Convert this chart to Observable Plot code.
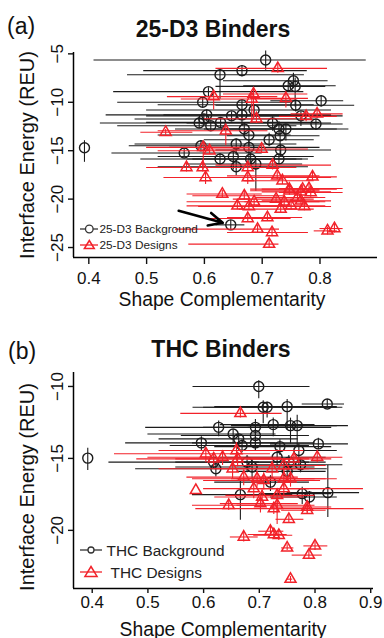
<!DOCTYPE html>
<html><head><meta charset="utf-8">
<script src="https://cdn.jsdelivr.net/npm/d3@7"></script>
<script src="https://cdn.jsdelivr.net/npm/@observablehq/plot@0.6"></script>
<style>
body{margin:0;background:#fff;}
#root{position:relative;width:384px;height:638px;overflow:hidden;font-family:"Liberation Sans",Arial,sans-serif;}
#root > div{position:absolute;left:0;}
#overlay{position:absolute;left:0;top:0;pointer-events:none;}
</style></head><body><div id="root"><div id="pa" style="top:0"></div><div id="pb" style="top:320px"></div></div>
<script>
// [x, y, xLow, xHigh, yLow, yHigh]
const bgA = [
[0.706,-5.63,0.409,0.880,-4.7,-6.7],[0.665,-6.73,0.495,0.778,-6.2,-7.4],[0.627,-7.15,0.467,0.773,-6.6,-9.7],
[0.754,-7.77,0.633,0.814,-7.0,-8.6],[0.745,-8.3,0.668,0.828,-7.9,-9.0],[0.757,-8.36,0.62,0.81,-7.5,-10.5],
[0.607,-8.9,0.443,0.772,-8.5,-9.5],[0.802,-9.84,0.715,0.841,-9.3,-10.5],[0.597,-10.0,0.45,0.75,-9.5,-10.6],
[0.665,-10.25,0.52,0.79,-9.8,-12.5],[0.758,-10.3,0.62,0.86,-9.8,-11.0],[0.686,-10.8,0.5,0.82,-10.3,-11.5],
[0.604,-11.3,0.43,0.78,-10.8,-12.0],[0.647,-11.4,0.5,0.84,-11.0,-12.0],[0.665,-11.3,0.53,0.82,-10.9,-11.8],
[0.767,-11.4,0.66,0.82,-11.0,-12.5],[0.591,-12.14,0.42,0.72,-11.6,-12.7],[0.599,-11.73,0.48,0.79,-11.3,-12.3],
[0.611,-12.42,0.45,0.76,-12.0,-13.0],[0.628,-12.08,0.50,0.80,-11.6,-12.7],[0.669,-12.76,0.55,0.79,-12.2,-13.4],
[0.677,-13.38,0.52,0.75,-12.9,-14.5],[0.718,-12.14,0.57,0.82,-11.5,-13.0],[0.729,-12.76,0.63,0.83,-12.0,-13.5],
[0.741,-12.76,0.60,0.85,-12.3,-14.0],[0.731,-13.45,0.64,0.80,-12.8,-15.5],[0.712,-13.87,0.60,0.79,-13.2,-14.6],
[0.793,-12.24,0.72,0.84,-11.8,-12.9],[0.3925,-14.7,0.3925,0.3925,-13.97,-16.2],[0.655,-14.31,0.48,0.76,-13.8,-15.5],
[0.677,-14.66,0.54,0.80,-14.0,-16.5],[0.565,-15.24,0.44,0.70,-14.8,-15.7],[0.627,-15.86,0.49,0.76,-15.3,-16.5],
[0.65,-15.6,0.52,0.79,-15.0,-17.0],[0.68,-15.86,0.57,0.77,-15.3,-16.5],[0.729,-15.86,0.58,0.78,-15.4,-16.4],
[0.732,-14.93,0.62,0.82,-14.4,-15.6],[0.655,-16.66,0.52,0.78,-16.0,-17.6],[0.689,-16.38,0.57,0.77,-15.8,-19.2],
[0.594,-14.49,0.47,0.70,-14.0,-15.0],[0.6456,-22.66,0.62,0.67,-22.2,-23.2]
];
const designsA = [
[0.727,-6.5,0.62,0.813,-6.0,-7.0],[0.685,-9.14,0.633,0.779,-8.5,-11.5],[0.616,-9.42,0.536,0.727,-9.0,-10.8],
[0.682,-9.66,0.56,0.76,-9.2,-12.0],[0.741,-9.6,0.68,0.78,-9.1,-10.6],[0.776,-11.46,0.73,0.83,-11.0,-12.0],
[0.795,-11.2,0.75,0.84,-10.8,-11.7],[0.69,-11.7,0.60,0.76,-11.2,-12.2],[0.533,-13.1,0.49,0.58,-12.8,-13.5],
[0.637,-12.94,0.52,0.71,-12.4,-14.5],[0.598,-14.66,0.50,0.68,-14.2,-17.0],[0.609,-15.0,0.52,0.70,-14.6,-15.4],
[0.699,-14.83,0.60,0.78,-14.4,-15.3],[0.569,-16.73,0.50,0.66,-16.3,-17.2],[0.597,-16.73,0.52,0.76,-16.3,-17.2],
[0.602,-17.77,0.53,0.82,-17.3,-18.5],[0.675,-16.73,0.55,0.74,-16.3,-17.3],[0.675,-17.77,0.55,0.76,-17.3,-18.5],
[0.718,-16.49,0.62,0.82,-16.0,-17.0],[0.726,-17.6,0.64,0.80,-17.2,-18.0],[0.735,-18.1,0.67,0.79,-17.7,-18.5],
[0.787,-17.7,0.74,0.83,-17.2,-18.1],[0.747,-18.97,0.68,0.80,-18.6,-19.4],[0.77,-18.97,0.70,0.83,-18.6,-19.4],
[0.781,-18.9,0.73,0.84,-18.5,-19.3],[0.631,-19.48,0.57,0.70,-19.1,-19.9],[0.669,-19.66,0.58,0.74,-19.2,-20.1],
[0.747,-19.14,0.68,0.80,-18.7,-19.6],[0.767,-19.25,0.70,0.82,-18.8,-19.7],[0.784,-19.32,0.73,0.84,-18.9,-19.8],
[0.686,-20.28,0.57,0.81,-19.9,-20.7],[0.724,-20.0,0.65,0.79,-19.6,-20.4],[0.738,-20.28,0.67,0.80,-19.9,-20.7],
[0.761,-19.83,0.69,0.81,-19.4,-20.3],[0.767,-20.18,0.70,0.82,-19.8,-20.6],[0.657,-20.7,0.57,0.74,-20.3,-21.1],
[0.677,-20.76,0.59,0.75,-20.3,-21.2],[0.732,-21.03,0.66,0.79,-20.6,-21.4],[0.75,-20.7,0.69,0.81,-20.3,-21.1],
[0.773,-20.76,0.71,0.82,-20.3,-21.2],[0.675,-22.0,0.60,0.75,-21.6,-22.4],[0.709,-21.9,0.64,0.77,-21.5,-22.3],
[0.692,-23.1,0.55,0.73,-22.7,-23.5],[0.717,-23.45,0.64,0.78,-23.0,-23.9],[0.712,-24.65,0.573,0.729,-24.2,-25.1],
[0.813,-23.28,0.79,0.83,-22.9,-23.7],[0.825,-23.04,0.80,0.84,-22.6,-23.5]
];
const bgB = [
[0.699,-10.0,0.581,0.791,-9.6,-10.85],[0.707,-11.45,0.581,0.84,-11.0,-12.6],[0.714,-11.45,0.60,0.85,-11.1,-12.2],
[0.75,-11.4,0.62,0.84,-10.9,-13.0],[0.822,-11.22,0.777,0.853,-10.9,-11.5],[0.627,-12.84,0.496,0.78,-12.4,-13.5],
[0.693,-12.84,0.60,0.83,-12.3,-13.5],[0.725,-12.65,0.63,0.80,-12.2,-13.5],[0.756,-12.72,0.65,0.84,-12.2,-14.0],
[0.768,-12.72,0.68,0.86,-12.0,-14.2],[0.653,-13.3,0.50,0.73,-13.0,-14.0],[0.693,-13.41,0.56,0.79,-13.0,-14.5],
[0.663,-13.64,0.52,0.77,-13.3,-14.2],[0.596,-13.92,0.46,0.73,-13.5,-14.5],[0.669,-14.1,0.54,0.79,-13.7,-14.6],
[0.693,-13.92,0.58,0.80,-13.5,-14.5],[0.737,-14.18,0.62,0.83,-13.7,-14.8],[0.806,-13.99,0.72,0.86,-13.6,-14.4],
[0.771,-14.45,0.67,0.84,-14.0,-15.5],[0.392,-14.98,0.392,0.392,-14.3,-15.84],[0.618,-15.26,0.43,0.70,-14.9,-15.7],
[0.678,-15.26,0.55,0.79,-14.8,-16.0],[0.732,-14.92,0.63,0.82,-14.4,-15.6],[0.753,-15.26,0.66,0.82,-14.8,-16.0],
[0.774,-15.44,0.68,0.85,-15.0,-16.0],[0.622,-15.72,0.478,0.822,-15.3,-16.3],[0.687,-15.6,0.55,0.80,-15.1,-16.4],
[0.75,-15.9,0.66,0.82,-15.4,-16.6],[0.72,-16.65,0.62,0.79,-16.2,-17.3],[0.666,-17.52,0.58,0.76,-16.5,-19.3],
[0.777,-17.45,0.70,0.83,-17.0,-18.2],[0.79,-17.68,0.72,0.84,-17.3,-18.2],[0.823,-17.38,0.75,0.88,-15.5,-19.1]
];
const designsB = [
[0.666,-11.87,0.559,0.741,-11.6,-12.2],[0.604,-14.68,0.44,0.72,-14.3,-15.3],[0.618,-15.03,0.48,0.79,-14.6,-15.6],
[0.634,-14.92,0.50,0.74,-14.5,-15.5],[0.659,-14.45,0.52,0.78,-13.9,-15.2],[0.661,-15.03,0.55,0.76,-14.6,-15.6],
[0.652,-15.72,0.52,0.79,-15.3,-16.4],[0.723,-15.72,0.62,0.80,-15.2,-16.4],[0.744,-15.49,0.65,0.82,-15.0,-16.0],
[0.762,-15.03,0.68,0.83,-14.6,-15.6],[0.804,-14.92,0.76,0.85,-14.5,-15.3],[0.672,-16.3,0.57,0.77,-15.8,-16.9],
[0.696,-16.41,0.58,0.80,-15.9,-17.0],[0.708,-16.53,0.60,0.81,-16.0,-17.2],[0.744,-16.41,0.65,0.82,-15.9,-17.0],
[0.756,-16.41,0.66,0.84,-15.9,-17.0],[0.586,-17.22,0.586,0.586,-17.22,-17.22],[0.69,-17.1,0.60,0.79,-16.6,-17.8],
[0.744,-17.1,0.66,0.887,-16.6,-17.6],[0.705,-17.68,0.62,0.78,-17.2,-18.3],[0.732,-17.57,0.64,0.80,-17.1,-18.8],
[0.645,-18.26,0.58,0.71,-17.9,-18.6],[0.702,-18.14,0.63,0.77,-17.7,-18.8],[0.732,-18.26,0.66,0.80,-17.8,-19.6],
[0.786,-18.38,0.72,0.83,-18.0,-18.8],[0.726,-18.49,0.586,0.888,-18.1,-18.9],[0.786,-18.6,0.74,0.82,-18.3,-18.9],
[0.753,-19.23,0.73,0.78,-18.9,-19.5],[0.672,-20.46,0.648,0.698,-20.1,-20.8],[0.72,-20.06,0.699,0.744,-19.7,-20.4],
[0.726,-20.29,0.68,0.75,-19.9,-20.6],[0.735,-20.34,0.69,0.76,-20.0,-20.7],[0.75,-21.22,0.74,0.762,-21.0,-21.4],
[0.80,-21.08,0.78,0.823,-20.8,-21.4],[0.789,-21.72,0.759,0.813,-21.4,-22.0],[0.756,-23.39,0.75,0.76,-23.2,-23.6]
];
const arrowA = [[0.5555,-21.21,0.6317,-22.45]];
const xTicksA = [0.4,0.5,0.6,0.7,0.8];
const yTicksA = [-5,-10,-15,-20,-25];
const xTicksB = [0.4,0.5,0.6,0.7,0.8,0.9];
const yTicksB = [-10,-15,-20];
const xDomA = [0.3735,0.8995], yDomA = [-26.03,-4.86];
const xDomB = [0.3664,0.905], yDomB = [-24.04,-9.03];
const titles = ["25-D3 Binders","THC Binders"];
const panelTags = ["(a)","(b)"];
const legendA = ["25-D3 Background","25-D3 Designs"];
const legendB = ["THC Background"," THC Designs"];
const xLabel = "Shape Complementarity";
const yLabel = "Interface Energy (REU)";

const BLACK = "#1c1c1c", RED = "#f2222a";
const rows = a => a.map(([x,y,xlo,xhi,ylo,yhi]) => ({x,y,xlo,xhi,ylo,yhi}));

function panel({bg, ds, xDom, yDom, xTicks, yTicks, marginRight, marginBottom, xTickSize, xTickPad, arrows}) {
  const B = rows(bg), D = rows(ds);
  return Plot.plot({
    width: 384, height: 320,
    marginLeft: 73, marginRight, marginTop: 52, marginBottom,
    x: {domain: xDom}, y: {domain: yDom},
    style: {fontFamily: "Liberation Sans, Arial, sans-serif", fontSize: "17px", color: "#111", background: "transparent"},
    marks: [
      Plot.ruleY(B, {y: "y", x1: "xlo", x2: "xhi", stroke: BLACK, strokeWidth: 1.1}),
      Plot.ruleX(B, {x: "x", y1: "ylo", y2: "yhi", stroke: BLACK, strokeWidth: 1.1}),
      Plot.dot(B, {x: "x", y: "y", r: 5, stroke: BLACK, fill: "none", strokeWidth: 1.4}),
      Plot.ruleY(D, {y: "y", x1: "xlo", x2: "xhi", stroke: RED, strokeWidth: 1.1}),
      Plot.ruleX(D, {x: "x", y1: "ylo", y2: "yhi", stroke: RED, strokeWidth: 1.1}),
      Plot.dot(D, {x: "x", y: "y", symbol: "triangle", r: 4.1, stroke: RED, fill: "none", strokeWidth: 1.5}),
      arrows ? Plot.arrow(arrows, {x1: d => d[0], y1: d => d[1], x2: d => d[2], y2: d => d[3], stroke: "#000", strokeWidth: 2.6, headLength: 10, headAngle: 50}) : null,
      Plot.ruleX([xDom[0]], {stroke: "#000", strokeWidth: 1.5}),
      Plot.ruleY([yDom[0]], {stroke: "#000", strokeWidth: 1.5}),
      Plot.axisX({ticks: xTicks, tickSize: xTickSize, tickPadding: xTickPad, tickFormat: d3.format(".1f"), label: null, strokeWidth: 1.4}),
      Plot.axisY({ticks: yTicks, tickSize: 5, tickPadding: 6, tickRotate: -90, label: null, strokeWidth: 1.4})
    ]
  });
}

document.getElementById("pa").append(panel({bg: bgA, ds: designsA, xDom: xDomA, yDom: yDomA, xTicks: xTicksA, yTicks: yTicksA, marginRight: 7, marginBottom: 63, xTickSize: 7, xTickPad: 7, arrows: arrowA}));
document.getElementById("pb").append(panel({bg: bgB, ds: designsB, xDom: xDomB, yDom: yDomB, xTicks: xTicksB, yTicks: yTicksB, marginRight: 11, marginBottom: 52, xTickSize: 5, xTickPad: 2, arrows: null}));

// overlay: titles, labels, legends
const svg = d3.select("#root").append("svg").attr("id","overlay").attr("width",384).attr("height",638)
  .style("font-family","Liberation Sans, Arial, sans-serif");
const txt = (t, x, y, size, opts = {}) => {
  const e = svg.append("text").attr("x", x).attr("y", y).attr("font-size", size).attr("fill", opts.fill || "#111").text(t);
  if (opts.anchor) e.attr("text-anchor", opts.anchor);
  if (opts.bold) e.attr("font-weight", "bold");
  if (opts.rotate) e.attr("transform", `rotate(-90,${x},${y})`);
  if (opts.ws) e.attr("xml:space","preserve").style("white-space","pre");
  return e;
};
txt(panelTags[0], 7, 34, 23);
txt(panelTags[1], 8, 359, 23);
txt(titles[0], 213, 36.5, 23, {anchor: "middle", bold: true});
txt(titles[1], 221, 356.5, 23, {anchor: "middle", bold: true});
txt(xLabel, 222, 305.5, 19.3, {anchor: "middle"});
txt(xLabel, 223, 635.5, 19.3, {anchor: "middle"});
txt(yLabel, 34, 155, 20, {anchor: "middle", rotate: true});
txt(yLabel, 34, 487, 20, {anchor: "middle", rotate: true});

function tri(cx, cy, s, color) {
  svg.append("path").attr("d", `M${cx},${cy - s}L${cx + s * 1.1},${cy + s * 0.8}L${cx - s * 1.1},${cy + s * 0.8}Z`)
    .attr("fill", "none").attr("stroke", color).attr("stroke-width", 1.5);
}
function legend(items, x0, x1, mx, tx, ys, size, cr, ts) {
  svg.append("line").attr("x1", x0).attr("x2", x1).attr("y1", ys[0]).attr("y2", ys[0]).attr("stroke", "#333").attr("stroke-width", 1.3);
  svg.append("circle").attr("cx", mx).attr("cy", ys[0]).attr("r", cr).attr("fill", "#fff").attr("stroke", "#333").attr("stroke-width", 1.3);
  svg.append("line").attr("x1", x0).attr("x2", x1).attr("y1", ys[1]).attr("y2", ys[1]).attr("stroke", RED).attr("stroke-width", 1.3);
  tri(mx, ys[1], ts, RED);
  txt(items[0], tx[0], ys[0], size, {fill: "#222"}).attr("dominant-baseline", "central");
  txt(items[1], tx[1], ys[1], size, {fill: "#222", ws: true}).attr("dominant-baseline", "central");
}
legend(legendA, 80, 98, 89.3, [99.5, 99.5], [229, 245], 11.8, 3.8, 4.5);
legend(legendB, 80, 102, 91, [106.5, 106.5], [550, 572], 15.4, 3, 5.5);
</script></body></html>
